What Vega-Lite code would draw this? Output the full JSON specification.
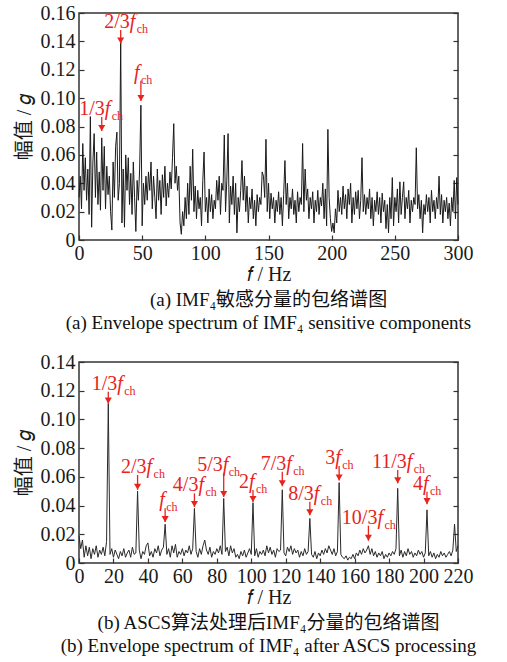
{
  "$schema": "https://vega.github.io/schema/vega-lite/v6.json",
  "background": "white",
  "padding": {"left": 13, "top": 2, "right": 0, "bottom": 0},
  "spacing": 17,
  "config": {
    "font": "Liberation Serif",
    "view": {"stroke": "#333333", "strokeWidth": 1.5},
    "axis": {
      "grid": false,
      "domain": false,
      "labelFont": "Liberation Serif",
      "labelFontSize": 20,
      "labelColor": "#1a1a1a",
      "labelOverlap": false,
      "labelFlush": false,
      "labelBound": false,
      "tickColor": "#333333",
      "tickSize": -5,
      "tickWidth": 1.2,
      "titleFont": "Liberation Serif, Noto Sans CJK SC",
      "titleFontSize": 20,
      "titleFontWeight": "normal",
      "titleColor": "#1a1a1a"
    },
    "text": {"font": "Liberation Serif", "fontSize": 20, "color": "#e8231e", "baseline": "alphabetic"}
  },
  "datasets": {
    "top": [
      {"f":0,"a":0.030},{"f":1,"a":0.045},{"f":2,"a":0.022},{"f":3,"a":0.068},{"f":4,"a":0.035},{"f":5,"a":0.058},{"f":6,"a":0.028},{"f":7,"a":0.050},{"f":8,"a":0.018},{"f":9,"a":0.087},
      {"f":10,"a":0.009},{"f":11,"a":0.055},{"f":12,"a":0.075},{"f":13,"a":0.030},{"f":14,"a":0.062},{"f":15,"a":0.025},{"f":16,"a":0.048},{"f":17,"a":0.021},{"f":18,"a":0.072},{"f":19,"a":0.035},
      {"f":20,"a":0.066},{"f":21,"a":0.022},{"f":22,"a":0.052},{"f":23,"a":0.032},{"f":24,"a":0.045},{"f":25,"a":0.020},{"f":26,"a":0.007},{"f":27,"a":0.055},{"f":28,"a":0.030},{"f":29,"a":0.066},
      {"f":30,"a":0.076},{"f":31,"a":0.028},{"f":32,"a":0.040},{"f":33,"a":0.140},{"f":34,"a":0.012},{"f":35,"a":0.050},{"f":36,"a":0.009},{"f":37,"a":0.060},{"f":38,"a":0.035},{"f":39,"a":0.058},
      {"f":40,"a":0.025},{"f":41,"a":0.047},{"f":42,"a":0.018},{"f":43,"a":0.055},{"f":44,"a":0.030},{"f":45,"a":0.006},{"f":46,"a":0.042},{"f":47,"a":0.028},{"f":48,"a":0.050},{"f":49,"a":0.095},
      {"f":50,"a":0.010},{"f":51,"a":0.040},{"f":52,"a":0.025},{"f":53,"a":0.045},{"f":54,"a":0.028},{"f":55,"a":0.048},{"f":56,"a":0.035},{"f":57,"a":0.055},{"f":58,"a":0.022},{"f":59,"a":0.045},
      {"f":60,"a":0.030},{"f":61,"a":0.015},{"f":62,"a":0.050},{"f":63,"a":0.028},{"f":64,"a":0.042},{"f":65,"a":0.018},{"f":66,"a":0.046},{"f":67,"a":0.030},{"f":68,"a":0.052},{"f":69,"a":0.024},
      {"f":70,"a":0.040},{"f":71,"a":0.030},{"f":72,"a":0.048},{"f":73,"a":0.036},{"f":74,"a":0.058},{"f":75,"a":0.082},{"f":76,"a":0.040},{"f":77,"a":0.052},{"f":78,"a":0.035},{"f":79,"a":0.045},
      {"f":80,"a":0.012},{"f":81,"a":0.004},{"f":82,"a":0.020},{"f":83,"a":0.010},{"f":84,"a":0.030},{"f":85,"a":0.015},{"f":86,"a":0.040},{"f":87,"a":0.018},{"f":88,"a":0.052},{"f":89,"a":0.028},
      {"f":90,"a":0.064},{"f":91,"a":0.020},{"f":92,"a":0.038},{"f":93,"a":0.015},{"f":94,"a":0.035},{"f":95,"a":0.022},{"f":96,"a":0.030},{"f":97,"a":0.010},{"f":98,"a":0.042},{"f":99,"a":0.062},
      {"f":100,"a":0.020},{"f":101,"a":0.030},{"f":102,"a":0.012},{"f":103,"a":0.036},{"f":104,"a":0.020},{"f":105,"a":0.032},{"f":106,"a":0.015},{"f":107,"a":0.028},{"f":108,"a":0.022},{"f":109,"a":0.042},
      {"f":110,"a":0.028},{"f":111,"a":0.045},{"f":112,"a":0.018},{"f":113,"a":0.040},{"f":114,"a":0.035},{"f":115,"a":0.074},{"f":116,"a":0.020},{"f":117,"a":0.042},{"f":118,"a":0.075},{"f":119,"a":0.012},
      {"f":120,"a":0.038},{"f":121,"a":0.025},{"f":122,"a":0.045},{"f":123,"a":0.018},{"f":124,"a":0.040},{"f":125,"a":0.005},{"f":126,"a":0.030},{"f":127,"a":0.020},{"f":128,"a":0.035},{"f":129,"a":0.056},
      {"f":130,"a":0.028},{"f":131,"a":0.045},{"f":132,"a":0.020},{"f":133,"a":0.038},{"f":134,"a":0.012},{"f":135,"a":0.030},{"f":136,"a":0.022},{"f":137,"a":0.036},{"f":138,"a":0.015},{"f":139,"a":0.028},
      {"f":140,"a":0.010},{"f":141,"a":0.032},{"f":142,"a":0.020},{"f":143,"a":0.030},{"f":144,"a":0.025},{"f":145,"a":0.048},{"f":146,"a":0.045},{"f":147,"a":0.030},{"f":148,"a":0.071},{"f":149,"a":0.020},
      {"f":150,"a":0.040},{"f":151,"a":0.015},{"f":152,"a":0.033},{"f":153,"a":0.022},{"f":154,"a":0.030},{"f":155,"a":0.012},{"f":156,"a":0.028},{"f":157,"a":0.020},{"f":158,"a":0.034},{"f":159,"a":0.018},
      {"f":160,"a":0.030},{"f":161,"a":0.010},{"f":162,"a":0.032},{"f":163,"a":0.056},{"f":164,"a":0.025},{"f":165,"a":0.040},{"f":166,"a":0.015},{"f":167,"a":0.030},{"f":168,"a":0.022},{"f":169,"a":0.036},
      {"f":170,"a":0.018},{"f":171,"a":0.028},{"f":172,"a":0.012},{"f":173,"a":0.034},{"f":174,"a":0.020},{"f":175,"a":0.030},{"f":176,"a":0.025},{"f":177,"a":0.068},{"f":178,"a":0.020},{"f":179,"a":0.050},
      {"f":180,"a":0.028},{"f":181,"a":0.036},{"f":182,"a":0.015},{"f":183,"a":0.030},{"f":184,"a":0.022},{"f":185,"a":0.034},{"f":186,"a":0.012},{"f":187,"a":0.028},{"f":188,"a":0.020},{"f":189,"a":0.035},
      {"f":190,"a":0.018},{"f":191,"a":0.030},{"f":192,"a":0.024},{"f":193,"a":0.040},{"f":194,"a":0.015},{"f":195,"a":0.036},{"f":196,"a":0.010},{"f":197,"a":0.078},{"f":198,"a":0.030},{"f":199,"a":0.015},
      {"f":200,"a":0.006},{"f":201,"a":0.012},{"f":202,"a":0.005},{"f":203,"a":0.022},{"f":204,"a":0.012},{"f":205,"a":0.035},{"f":206,"a":0.020},{"f":207,"a":0.030},{"f":208,"a":0.018},{"f":209,"a":0.038},
      {"f":210,"a":0.022},{"f":211,"a":0.032},{"f":212,"a":0.015},{"f":213,"a":0.036},{"f":214,"a":0.025},{"f":215,"a":0.040},{"f":216,"a":0.012},{"f":217,"a":0.030},{"f":218,"a":0.018},{"f":219,"a":0.034},
      {"f":220,"a":0.022},{"f":221,"a":0.035},{"f":222,"a":0.015},{"f":223,"a":0.028},{"f":224,"a":0.058},{"f":225,"a":0.020},{"f":226,"a":0.032},{"f":227,"a":0.018},{"f":228,"a":0.030},{"f":229,"a":0.022},
      {"f":230,"a":0.036},{"f":231,"a":0.015},{"f":232,"a":0.030},{"f":233,"a":0.010},{"f":234,"a":0.028},{"f":235,"a":0.020},{"f":236,"a":0.034},{"f":237,"a":0.018},{"f":238,"a":0.030},{"f":239,"a":0.012},
      {"f":240,"a":0.033},{"f":241,"a":0.020},{"f":242,"a":0.028},{"f":243,"a":0.008},{"f":244,"a":0.025},{"f":245,"a":0.005},{"f":246,"a":0.030},{"f":247,"a":0.015},{"f":248,"a":0.044},{"f":249,"a":0.010},
      {"f":250,"a":0.030},{"f":251,"a":0.020},{"f":252,"a":0.036},{"f":253,"a":0.012},{"f":254,"a":0.041},{"f":255,"a":0.018},{"f":256,"a":0.030},{"f":257,"a":0.041},{"f":258,"a":0.015},{"f":259,"a":0.030},
      {"f":260,"a":0.022},{"f":261,"a":0.035},{"f":262,"a":0.012},{"f":263,"a":0.028},{"f":264,"a":0.020},{"f":265,"a":0.030},{"f":266,"a":0.025},{"f":267,"a":0.065},{"f":268,"a":0.022},{"f":269,"a":0.032},
      {"f":270,"a":0.015},{"f":271,"a":0.028},{"f":272,"a":0.005},{"f":273,"a":0.025},{"f":274,"a":0.018},{"f":275,"a":0.032},{"f":276,"a":0.020},{"f":277,"a":0.030},{"f":278,"a":0.012},{"f":279,"a":0.035},
      {"f":280,"a":0.020},{"f":281,"a":0.028},{"f":282,"a":0.015},{"f":283,"a":0.030},{"f":284,"a":0.022},{"f":285,"a":0.045},{"f":286,"a":0.018},{"f":287,"a":0.032},{"f":288,"a":0.012},{"f":289,"a":0.028},
      {"f":290,"a":0.020},{"f":291,"a":0.030},{"f":292,"a":0.015},{"f":293,"a":0.026},{"f":294,"a":0.010},{"f":295,"a":0.030},{"f":296,"a":0.020},{"f":297,"a":0.042},{"f":298,"a":0.015},{"f":299,"a":0.044},
      {"f":300,"a":0.025}
    ],
    "bot": [
      {"f":0,"a":0.019},{"f":1,"a":0.010},{"f":2,"a":0.016},{"f":3,"a":0.004},{"f":4,"a":0.012},{"f":5,"a":0.005},{"f":6,"a":0.011},{"f":7,"a":0.003},{"f":8,"a":0.010},{"f":9,"a":0.006},
      {"f":10,"a":0.012},{"f":11,"a":0.004},{"f":12,"a":0.009},{"f":13,"a":0.006},{"f":14,"a":0.011},{"f":15,"a":0.005},{"f":16,"a":0.015},{"f":17,"a":0.111},{"f":18,"a":0.006},{"f":19,"a":0.010},
      {"f":20,"a":0.004},{"f":21,"a":0.009},{"f":22,"a":0.006},{"f":23,"a":0.003},{"f":24,"a":0.008},{"f":25,"a":0.005},{"f":26,"a":0.010},{"f":27,"a":0.004},{"f":28,"a":0.007},{"f":29,"a":0.009},
      {"f":30,"a":0.004},{"f":31,"a":0.011},{"f":32,"a":0.006},{"f":33,"a":0.007},{"f":34,"a":0.050},{"f":35,"a":0.009},{"f":36,"a":0.003},{"f":37,"a":0.008},{"f":38,"a":0.006},{"f":39,"a":0.012},
      {"f":40,"a":0.014},{"f":41,"a":0.005},{"f":42,"a":0.008},{"f":43,"a":0.004},{"f":44,"a":0.010},{"f":45,"a":0.007},{"f":46,"a":0.012},{"f":47,"a":0.005},{"f":48,"a":0.009},{"f":49,"a":0.011},
      {"f":50,"a":0.027},{"f":51,"a":0.006},{"f":52,"a":0.010},{"f":53,"a":0.004},{"f":54,"a":0.012},{"f":55,"a":0.007},{"f":56,"a":0.013},{"f":57,"a":0.004},{"f":58,"a":0.008},{"f":59,"a":0.006},
      {"f":60,"a":0.010},{"f":61,"a":0.005},{"f":62,"a":0.009},{"f":63,"a":0.007},{"f":64,"a":0.012},{"f":65,"a":0.006},{"f":66,"a":0.010},{"f":67,"a":0.038},{"f":68,"a":0.008},{"f":69,"a":0.004},
      {"f":70,"a":0.010},{"f":71,"a":0.006},{"f":72,"a":0.012},{"f":73,"a":0.016},{"f":74,"a":0.009},{"f":75,"a":0.006},{"f":76,"a":0.011},{"f":77,"a":0.004},{"f":78,"a":0.008},{"f":79,"a":0.006},
      {"f":80,"a":0.010},{"f":81,"a":0.007},{"f":82,"a":0.012},{"f":83,"a":0.006},{"f":84,"a":0.045},{"f":85,"a":0.008},{"f":86,"a":0.011},{"f":87,"a":0.005},{"f":88,"a":0.012},{"f":89,"a":0.007},
      {"f":90,"a":0.010},{"f":91,"a":0.004},{"f":92,"a":0.006},{"f":93,"a":0.003},{"f":94,"a":0.008},{"f":95,"a":0.005},{"f":96,"a":0.009},{"f":97,"a":0.004},{"f":98,"a":0.007},{"f":99,"a":0.010},
      {"f":100,"a":0.006},{"f":101,"a":0.042},{"f":102,"a":0.005},{"f":103,"a":0.010},{"f":104,"a":0.004},{"f":105,"a":0.008},{"f":106,"a":0.006},{"f":107,"a":0.009},{"f":108,"a":0.005},{"f":109,"a":0.012},
      {"f":110,"a":0.007},{"f":111,"a":0.011},{"f":112,"a":0.006},{"f":113,"a":0.009},{"f":114,"a":0.004},{"f":115,"a":0.010},{"f":116,"a":0.008},{"f":117,"a":0.009},{"f":118,"a":0.051},{"f":119,"a":0.007},
      {"f":120,"a":0.005},{"f":121,"a":0.011},{"f":122,"a":0.008},{"f":123,"a":0.012},{"f":124,"a":0.006},{"f":125,"a":0.010},{"f":126,"a":0.007},{"f":127,"a":0.009},{"f":128,"a":0.004},{"f":129,"a":0.008},
      {"f":130,"a":0.005},{"f":131,"a":0.010},{"f":132,"a":0.006},{"f":133,"a":0.008},{"f":134,"a":0.031},{"f":135,"a":0.006},{"f":136,"a":0.004},{"f":137,"a":0.008},{"f":138,"a":0.003},{"f":139,"a":0.007},
      {"f":140,"a":0.005},{"f":141,"a":0.009},{"f":142,"a":0.006},{"f":143,"a":0.010},{"f":144,"a":0.007},{"f":145,"a":0.012},{"f":146,"a":0.009},{"f":147,"a":0.006},{"f":148,"a":0.010},{"f":149,"a":0.005},
      {"f":150,"a":0.008},{"f":151,"a":0.056},{"f":152,"a":0.006},{"f":153,"a":0.004},{"f":154,"a":0.003},{"f":155,"a":0.005},{"f":156,"a":0.002},{"f":157,"a":0.004},{"f":158,"a":0.003},{"f":159,"a":0.006},
      {"f":160,"a":0.003},{"f":161,"a":0.007},{"f":162,"a":0.005},{"f":163,"a":0.009},{"f":164,"a":0.006},{"f":165,"a":0.010},{"f":166,"a":0.007},{"f":167,"a":0.009},{"f":168,"a":0.012},{"f":169,"a":0.006},
      {"f":170,"a":0.010},{"f":171,"a":0.005},{"f":172,"a":0.008},{"f":173,"a":0.004},{"f":174,"a":0.007},{"f":175,"a":0.005},{"f":176,"a":0.008},{"f":177,"a":0.003},{"f":178,"a":0.006},{"f":179,"a":0.004},
      {"f":180,"a":0.007},{"f":181,"a":0.005},{"f":182,"a":0.008},{"f":183,"a":0.006},{"f":184,"a":0.010},{"f":185,"a":0.052},{"f":186,"a":0.005},{"f":187,"a":0.009},{"f":188,"a":0.004},{"f":189,"a":0.008},
      {"f":190,"a":0.005},{"f":191,"a":0.010},{"f":192,"a":0.006},{"f":193,"a":0.008},{"f":194,"a":0.004},{"f":195,"a":0.007},{"f":196,"a":0.005},{"f":197,"a":0.009},{"f":198,"a":0.006},{"f":199,"a":0.008},
      {"f":200,"a":0.004},{"f":201,"a":0.007},{"f":202,"a":0.037},{"f":203,"a":0.005},{"f":204,"a":0.008},{"f":205,"a":0.004},{"f":206,"a":0.007},{"f":207,"a":0.003},{"f":208,"a":0.006},{"f":209,"a":0.004},
      {"f":210,"a":0.008},{"f":211,"a":0.005},{"f":212,"a":0.007},{"f":213,"a":0.004},{"f":214,"a":0.006},{"f":215,"a":0.008},{"f":216,"a":0.005},{"f":217,"a":0.009},{"f":218,"a":0.027},{"f":219,"a":0.008},
      {"f":220,"a":0.012}
    ],
    "topAnn": [
      {"f":18,"tail":0.0867,"tip":0.0768,"pre":"1/3"},
      {"f":33,"tail":0.148,"tip":0.1385,"pre":"2/3"},
      {"f":49,"tail":0.1122,"tip":0.098,"pre":""}
    ],
    "botAnn": [
      {"f":17,"tail":0.1193,"tip":0.111,"pre":"1/3"},
      {"f":34,"tail":0.0613,"tip":0.051,"pre":"2/3"},
      {"f":50,"tail":0.0381,"tip":0.0285,"pre":""},
      {"f":67,"tail":0.0485,"tip":0.039,"pre":"4/3"},
      {"f":84,"tail":0.0625,"tip":0.046,"pre":"5/3"},
      {"f":101,"tail":0.0508,"tip":0.0425,"pre":"2"},
      {"f":118,"tail":0.0636,"tip":0.0535,"pre":"7/3"},
      {"f":134,"tail":0.0427,"tip":0.0332,"pre":"8/3"},
      {"f":151,"tail":0.0676,"tip":0.0575,"pre":"3"},
      {"f":168,"tail":0.026,"tip":0.0155,"pre":"10/3"},
      {"f":185,"tail":0.0648,"tip":0.0555,"pre":"11/3"},
      {"f":202,"tail":0.0497,"tip":0.041,"pre":"4"}
    ]
  },
  "vconcat": [
    {
      "width": 379,
      "height": 227,
      "title": {
        "text": "(a)  IMF₄敏感分量的包络谱图",
        "subtitle": "(a)  Envelope spectrum of IMF₄ sensitive components",
        "orient": "bottom",
        "anchor": "middle",
        "offset": 7,
        "font": "Liberation Serif, Noto Sans CJK SC",
        "fontSize": 19,
        "fontWeight": "normal",
        "color": "#111111",
        "subtitleFont": "Liberation Serif, Noto Sans CJK SC",
        "subtitleFontSize": 19,
        "subtitleColor": "#111111",
        "subtitlePadding": 4
      },
      "resolve": {"axis": {"x": "independent", "y": "independent"}},
      "layer": [
        {
          "data": {"name": "top"},
          "mark": {"type": "line", "color": "#1a1a1a", "strokeWidth": 1},
          "encoding": {
            "x": {"field": "f", "type": "quantitative", "scale": {"domain": [0, 300], "nice": false},
                  "axis": {"orient": "bottom", "values": [0, 50, 100, 150, 200, 250, 300], "labelOverlap": false, "title": "𝑓 / Hz", "labelPadding": 8, "titlePadding": 1}},
            "y": {"field": "a", "type": "quantitative", "scale": {"domain": [0, 0.16], "nice": false},
                  "axis": {"orient": "left", "values": [0, 0.02, 0.04, 0.06, 0.08, 0.1, 0.12, 0.14, 0.16], "labelOverlap": false, "labelExpr": "datum.value === 0 ? '0' : format(datum.value, '.2f')", "title": "幅值 / 𝑔", "labelPadding": 9, "titlePadding": 6}}
          }
        },
        {
          "data": {"name": "topAnn"},
          "mark": {"type": "rule", "color": "#e8231e", "strokeWidth": 1.3},
          "encoding": {
            "x": {"field": "f", "type": "quantitative", "axis": null},
            "y": {"field": "tail", "type": "quantitative", "axis": null},
            "y2": {"field": "tip"}
          }
        },
        {
          "data": {"name": "topAnn"},
          "mark": {"type": "point", "shape": "triangle-down", "filled": true, "color": "#e8231e", "opacity": 1, "size": 50, "yOffset": -3},
          "encoding": {
            "x": {"field": "f", "type": "quantitative", "axis": null},
            "y": {"field": "tip", "type": "quantitative", "axis": null}
          }
        },
        {
          "data": {"name": "topAnn"},
          "transform": [{"filter": "datum.pre == '2/3'"}],
          "mark": {"type": "text", "align": "right", "dx": 9, "dy": -2},
          "encoding": {"x": {"field": "f", "type": "quantitative", "axis": null}, "y": {"field": "tail", "type": "quantitative", "axis": null}, "text": {"field": "pre"}}
        },
        {
          "data": {"name": "topAnn"},
          "transform": [{"filter": "datum.pre == '2/3'"}],
          "mark": {"type": "text", "align": "left", "dx": 9, "dy": -2, "fontStyle": "italic", "text": "f"},
          "encoding": {"x": {"field": "f", "type": "quantitative", "axis": null}, "y": {"field": "tail", "type": "quantitative", "axis": null}}
        },
        {
          "data": {"name": "topAnn"},
          "transform": [{"filter": "datum.pre == '2/3'"}],
          "mark": {"type": "text", "align": "left", "dx": 16, "dy": 3, "fontSize": 12, "text": "ch"},
          "encoding": {"x": {"field": "f", "type": "quantitative", "axis": null}, "y": {"field": "tail", "type": "quantitative", "axis": null}}
        },
        {
          "data": {"name": "topAnn"},
          "transform": [{"filter": "datum.pre == '1/3'"}],
          "mark": {"type": "text", "align": "right", "dx": 3, "dy": -2},
          "encoding": {"x": {"field": "f", "type": "quantitative", "axis": null}, "y": {"field": "tail", "type": "quantitative", "axis": null}, "text": {"field": "pre"}}
        },
        {
          "data": {"name": "topAnn"},
          "transform": [{"filter": "datum.pre == '1/3'"}],
          "mark": {"type": "text", "align": "left", "dx": 3, "dy": -2, "fontStyle": "italic", "text": "f"},
          "encoding": {"x": {"field": "f", "type": "quantitative", "axis": null}, "y": {"field": "tail", "type": "quantitative", "axis": null}}
        },
        {
          "data": {"name": "topAnn"},
          "transform": [{"filter": "datum.pre == '1/3'"}],
          "mark": {"type": "text", "align": "left", "dx": 10, "dy": 3, "fontSize": 12, "text": "ch"},
          "encoding": {"x": {"field": "f", "type": "quantitative", "axis": null}, "y": {"field": "tail", "type": "quantitative", "axis": null}}
        },
        {
          "data": {"name": "topAnn"},
          "transform": [{"filter": "datum.pre == ''"}],
          "mark": {"type": "text", "align": "left", "dx": -7, "dy": -2, "fontStyle": "italic", "text": "f"},
          "encoding": {"x": {"field": "f", "type": "quantitative", "axis": null}, "y": {"field": "tail", "type": "quantitative", "axis": null}}
        },
        {
          "data": {"name": "topAnn"},
          "transform": [{"filter": "datum.pre == ''"}],
          "mark": {"type": "text", "align": "left", "dx": 0, "dy": 3, "fontSize": 12, "text": "ch"},
          "encoding": {"x": {"field": "f", "type": "quantitative", "axis": null}, "y": {"field": "tail", "type": "quantitative", "axis": null}}
        },
        {
          "data": {"name": "top"},
          "mark": {"type": "line", "opacity": 0},
          "encoding": {
            "x": {"field": "f", "type": "quantitative", "axis": null},
            "y": {"field": "a", "type": "quantitative", "axis": {"orient": "right", "labels": false, "title": null, "values": [0, 0.02, 0.04, 0.06, 0.08, 0.1, 0.12, 0.14, 0.16]}}
          }
        }
      ]
    },
    {
      "width": 379,
      "height": 201,
      "title": {
        "text": "(b)  ASCS算法处理后IMF₄分量的包络谱图",
        "subtitle": "(b)  Envelope spectrum of IMF₄ after ASCS processing",
        "orient": "bottom",
        "anchor": "middle",
        "offset": 7,
        "font": "Liberation Serif, Noto Sans CJK SC",
        "fontSize": 19,
        "fontWeight": "normal",
        "color": "#111111",
        "subtitleFont": "Liberation Serif, Noto Sans CJK SC",
        "subtitleFontSize": 19,
        "subtitleColor": "#111111",
        "subtitlePadding": 4
      },
      "resolve": {"axis": {"x": "independent", "y": "independent"}},
      "layer": [
        {
          "data": {"name": "bot"},
          "mark": {"type": "line", "color": "#2a2a2a", "strokeWidth": 1},
          "encoding": {
            "x": {"field": "f", "type": "quantitative", "scale": {"domain": [0, 220], "nice": false},
                  "axis": {"orient": "bottom", "values": [0, 20, 40, 60, 80, 100, 120, 140, 160, 180, 200, 220], "labelOverlap": false, "title": "𝑓 / Hz", "labelPadding": 8, "titlePadding": 1}},
            "y": {"field": "a", "type": "quantitative", "scale": {"domain": [0, 0.14], "nice": false},
                  "axis": {"orient": "left", "values": [0, 0.02, 0.04, 0.06, 0.08, 0.1, 0.12, 0.14], "labelOverlap": false, "labelExpr": "datum.value === 0 ? '0' : format(datum.value, '.2f')", "title": "幅值 / 𝑔", "labelPadding": 9, "titlePadding": 6}}
          }
        },
        {
          "data": {"name": "botAnn"},
          "mark": {"type": "rule", "color": "#e8231e", "strokeWidth": 1.3},
          "encoding": {
            "x": {"field": "f", "type": "quantitative", "axis": null},
            "y": {"field": "tail", "type": "quantitative", "axis": null},
            "y2": {"field": "tip"}
          }
        },
        {
          "data": {"name": "botAnn"},
          "mark": {"type": "point", "shape": "triangle-down", "filled": true, "color": "#e8231e", "opacity": 1, "size": 50, "yOffset": -3},
          "encoding": {
            "x": {"field": "f", "type": "quantitative", "axis": null},
            "y": {"field": "tip", "type": "quantitative", "axis": null}
          }
        },
        {
          "data": {"name": "botAnn"},
          "transform": [{"filter": "indexof(['1/3','2/3','10/3','11/3'], datum.pre) >= 0"}],
          "mark": {"type": "text", "align": "right", "dx": 9, "dy": -2},
          "encoding": {"x": {"field": "f", "type": "quantitative", "axis": null}, "y": {"field": "tail", "type": "quantitative", "axis": null}, "text": {"field": "pre"}}
        },
        {
          "data": {"name": "botAnn"},
          "transform": [{"filter": "indexof(['1/3','2/3','10/3','11/3'], datum.pre) >= 0"}],
          "mark": {"type": "text", "align": "left", "dx": 9, "dy": -2, "fontStyle": "italic", "text": "f"},
          "encoding": {"x": {"field": "f", "type": "quantitative", "axis": null}, "y": {"field": "tail", "type": "quantitative", "axis": null}}
        },
        {
          "data": {"name": "botAnn"},
          "transform": [{"filter": "indexof(['1/3','2/3','10/3','11/3'], datum.pre) >= 0"}],
          "mark": {"type": "text", "align": "left", "dx": 16, "dy": 3, "fontSize": 12, "text": "ch"},
          "encoding": {"x": {"field": "f", "type": "quantitative", "axis": null}, "y": {"field": "tail", "type": "quantitative", "axis": null}}
        },
        {
          "data": {"name": "botAnn"},
          "transform": [{"filter": "indexof(['4/3','7/3','8/3'], datum.pre) >= 0"}],
          "mark": {"type": "text", "align": "right", "dx": 4, "dy": -2},
          "encoding": {"x": {"field": "f", "type": "quantitative", "axis": null}, "y": {"field": "tail", "type": "quantitative", "axis": null}, "text": {"field": "pre"}}
        },
        {
          "data": {"name": "botAnn"},
          "transform": [{"filter": "indexof(['4/3','7/3','8/3'], datum.pre) >= 0"}],
          "mark": {"type": "text", "align": "left", "dx": 4, "dy": -2, "fontStyle": "italic", "text": "f"},
          "encoding": {"x": {"field": "f", "type": "quantitative", "axis": null}, "y": {"field": "tail", "type": "quantitative", "axis": null}}
        },
        {
          "data": {"name": "botAnn"},
          "transform": [{"filter": "indexof(['4/3','7/3','8/3'], datum.pre) >= 0"}],
          "mark": {"type": "text", "align": "left", "dx": 11, "dy": 3, "fontSize": 12, "text": "ch"},
          "encoding": {"x": {"field": "f", "type": "quantitative", "axis": null}, "y": {"field": "tail", "type": "quantitative", "axis": null}}
        },
        {
          "data": {"name": "botAnn"},
          "transform": [{"filter": "datum.pre == '5/3'"}],
          "mark": {"type": "text", "align": "right", "dx": -1, "dy": -2},
          "encoding": {"x": {"field": "f", "type": "quantitative", "axis": null}, "y": {"field": "tail", "type": "quantitative", "axis": null}, "text": {"field": "pre"}}
        },
        {
          "data": {"name": "botAnn"},
          "transform": [{"filter": "datum.pre == '5/3'"}],
          "mark": {"type": "text", "align": "left", "dx": -1, "dy": -2, "fontStyle": "italic", "text": "f"},
          "encoding": {"x": {"field": "f", "type": "quantitative", "axis": null}, "y": {"field": "tail", "type": "quantitative", "axis": null}}
        },
        {
          "data": {"name": "botAnn"},
          "transform": [{"filter": "datum.pre == '5/3'"}],
          "mark": {"type": "text", "align": "left", "dx": 5, "dy": 3, "fontSize": 12, "text": "ch"},
          "encoding": {"x": {"field": "f", "type": "quantitative", "axis": null}, "y": {"field": "tail", "type": "quantitative", "axis": null}}
        },
        {
          "data": {"name": "botAnn"},
          "transform": [{"filter": "length(datum.pre) == 1"}],
          "mark": {"type": "text", "align": "right", "dx": -4, "dy": -2},
          "encoding": {"x": {"field": "f", "type": "quantitative", "axis": null}, "y": {"field": "tail", "type": "quantitative", "axis": null}, "text": {"field": "pre"}}
        },
        {
          "data": {"name": "botAnn"},
          "transform": [{"filter": "length(datum.pre) == 1"}],
          "mark": {"type": "text", "align": "left", "dx": -4, "dy": -2, "fontStyle": "italic", "text": "f"},
          "encoding": {"x": {"field": "f", "type": "quantitative", "axis": null}, "y": {"field": "tail", "type": "quantitative", "axis": null}}
        },
        {
          "data": {"name": "botAnn"},
          "transform": [{"filter": "length(datum.pre) == 1"}],
          "mark": {"type": "text", "align": "left", "dx": 3, "dy": 3, "fontSize": 12, "text": "ch"},
          "encoding": {"x": {"field": "f", "type": "quantitative", "axis": null}, "y": {"field": "tail", "type": "quantitative", "axis": null}}
        },
        {
          "data": {"name": "botAnn"},
          "transform": [{"filter": "datum.pre == ''"}],
          "mark": {"type": "text", "align": "left", "dx": -6, "dy": -2, "fontStyle": "italic", "text": "f"},
          "encoding": {"x": {"field": "f", "type": "quantitative", "axis": null}, "y": {"field": "tail", "type": "quantitative", "axis": null}}
        },
        {
          "data": {"name": "botAnn"},
          "transform": [{"filter": "datum.pre == ''"}],
          "mark": {"type": "text", "align": "left", "dx": 1, "dy": 3, "fontSize": 12, "text": "ch"},
          "encoding": {"x": {"field": "f", "type": "quantitative", "axis": null}, "y": {"field": "tail", "type": "quantitative", "axis": null}}
        },
        {
          "data": {"name": "bot"},
          "mark": {"type": "line", "opacity": 0},
          "encoding": {
            "x": {"field": "f", "type": "quantitative", "axis": null},
            "y": {"field": "a", "type": "quantitative", "axis": {"orient": "right", "labels": false, "title": null, "values": [0, 0.02, 0.04, 0.06, 0.08, 0.1, 0.12, 0.14]}}
          }
        }
      ]
    }
  ]
}
